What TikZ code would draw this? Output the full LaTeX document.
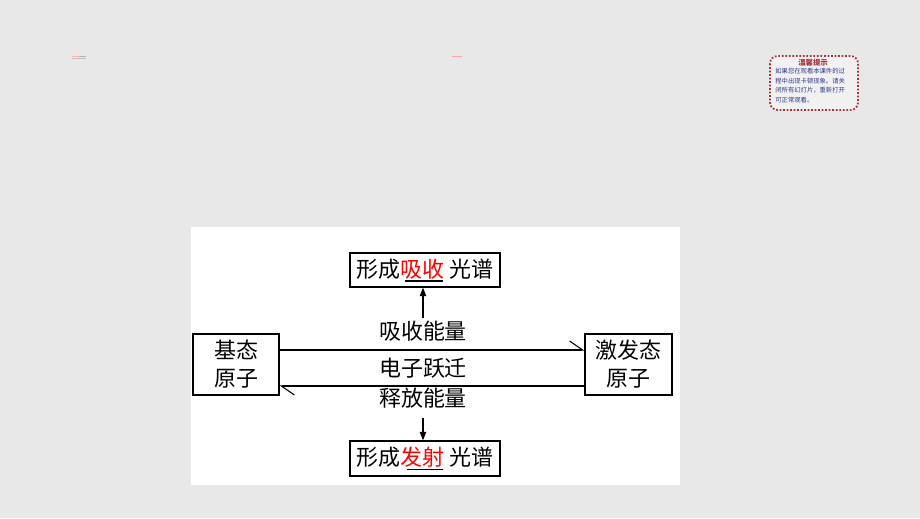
\documentclass[tikz,border=0pt]{standalone}
\usepackage{fontspec}
\setmainfont{Noto Sans CJK SC}
\usetikzlibrary{arrows.meta}
\definecolor{slidegray}{HTML}{E8E8E8}
\definecolor{tipred}{HTML}{A8323C}
\definecolor{tipblue}{HTML}{2E3A8C}
\newcommand{\blankline}[1]{\llap{\rule[-0.09cm]{#1}{0.6pt}\hspace{0.03cm}}}

\begin{document}
\begin{tikzpicture}[
    box/.style={draw, line width=0.8pt, inner sep=0pt, font=\fontsize{12.5}{16}\selectfont},
    lbl/.style={font=\fontsize{12.5}{15}\selectfont, inner sep=0pt},
    absorb/.style={line width=0.6pt, -{Straight Barb[left, length=2.6mm, width=3.6mm]}},
    rise/.style={line width=0.6pt, -{Triangle[length=1.7mm, width=1.3mm]}}]
  \fill[slidegray] (0,0) rectangle (18.4,-10.36);
  \fill[white] (3.82,-4.54) rectangle (13.6,-9.7);
  % small slide marks
  \draw[red!30, line width=0.4pt] (1.44,-1.12) -- (1.58,-1.12);
  \draw[gray!60, line width=0.4pt] (1.58,-1.12) -- (1.72,-1.12);
  \draw[gray!50, line width=0.3pt] (1.44,-1.17) -- (1.72,-1.17);
  \draw[red!35, line width=0.5pt] (9.04,-1.12) -- (9.24,-1.12);
  % notice box
  \draw[tipred, line width=1pt, densely dotted, rounded corners=0.15cm, fill=slidegray!60]
    (15.4,-1.12) rectangle (17.16,-2.2);
  \node[text=tipred, font=\fontsize{4.2}{5}\selectfont\bfseries] (tiphead) at (16.26,-1.25) {温馨提示};
  \node[text=tipblue, font=\fontsize{3.6}{5.6}\selectfont, align=left, anchor=north west, inner sep=0pt]
    (tipbody) at (15.5,-1.35) {如果您在观看本课件的过\\程中出现卡顿现象。请关\\闭所有幻灯片，重新打开\\可正常观看。};
  % diagram
  \node[box, minimum width=1.72cm, minimum height=1.22cm, align=center] (base) at (4.72,-7.29) {基态\\原子};
  \node[box, minimum width=1.74cm, minimum height=1.22cm, align=center] (excited) at (12.57,-7.29) {激发态\\原子};
  \node[box, minimum width=3cm, minimum height=0.68cm] (absspec) at (8.5,-5.4)
    {形成\textcolor{red}{吸收}\blankline{0.76cm} 光谱};
  \node[box, minimum width=3cm, minimum height=0.7cm] (emispec) at (8.5,-9.17)
    {形成\textcolor{red}{发射}\blankline{0.72cm} 光谱};
  \coordinate (up) at (8.46,-7.0);
  \coordinate (down) at (8.46,-7.72);
  \coordinate (upstart) at (8.46,-6.36);
  \coordinate (downstart) at (8.46,-8.36);
  \draw[absorb] (base.east |- up) -- (excited.west |- up);
  \draw[absorb] (excited.west |- down) -- (base.east |- down);
  \draw[rise] (upstart) -- (upstart |- absspec.south);
  \draw[rise] (downstart) -- (downstart |- emispec.north);
  \node[lbl] (gain) at (8.46,-6.62) {吸收能量};
  \node[lbl] (jump) at (8.46,-7.36) {电子跃迁};
  \node[lbl] (loss) at (8.46,-7.96) {释放能量};
\end{tikzpicture}
\end{document}
